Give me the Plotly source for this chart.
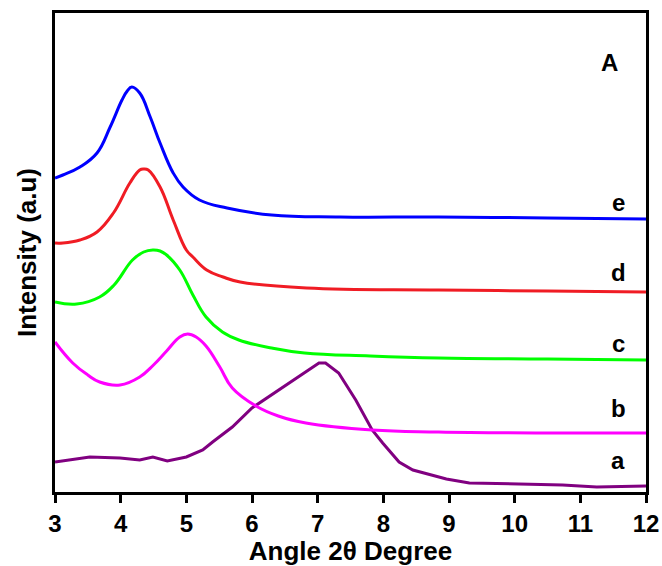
import plotly.graph_objects as go

# Angle 2θ (degree) and intensity (a.u.)
x_e = [3.0, 3.12, 3.38, 3.64, 3.84, 4.02, 4.1, 4.17, 4.29, 4.45, 4.6, 4.8, 4.95, 5.2, 5.62, 6.3, 7.34, 8.84, 10.5, 12.0]
y_e = [314, 317, 325, 339, 365, 392, 401, 405, 399, 375, 349, 319, 305, 292, 284, 277, 275, 275, 274, 273]

x_d = [3.0, 3.12, 3.38, 3.64, 3.89, 4.14, 4.29, 4.35, 4.42, 4.6, 4.8, 5.0, 5.1, 5.31, 5.56, 5.82, 6.83, 8.84, 10.5, 12.0]
y_d = [249, 249, 252, 260, 279, 309, 322, 323, 322, 305, 272, 242, 235, 222, 215, 210, 204, 202, 201, 200]

x_c = [3.0, 3.33, 3.68, 3.9, 4.18, 4.35, 4.49, 4.6, 4.7, 4.9, 5.1, 5.3, 5.55, 5.8, 6.3, 6.8, 7.8, 8.84, 10.5, 12.0]
y_c = [190, 188, 195, 207, 232, 240, 242, 241, 237, 222, 197, 175, 160, 152, 144, 139, 136, 134, 133, 132]

x_b = [3.0, 3.27, 3.5, 3.68, 3.99, 4.29, 4.5, 4.7, 4.9, 5.02, 5.15, 5.3, 5.51, 5.7, 6.06, 6.4, 6.82, 7.83, 8.84, 10.5, 12.0]
y_b = [150, 129, 117, 110, 107, 115, 127, 141, 155, 158, 155, 146, 125, 104, 86, 76, 69, 62, 60, 59, 59]

x_a = [3.0, 3.53, 3.99, 4.29, 4.49, 4.71, 5.0, 5.25, 5.4, 5.7, 6.0, 7.02, 7.12, 7.32, 7.58, 7.83,
       7.99, 8.24, 8.45, 8.96, 9.31, 9.97, 10.73, 11.25, 12.0]
y_a = [30, 35, 34, 32, 35, 31, 35, 42, 50, 65, 84, 129, 129, 119, 92, 62,
       49, 30, 22, 13, 9, 8, 7, 5, 6]

series = [
    ("a", x_a, y_a, "#800080", "linear"),
    ("b", x_b, y_b, "#FF00FF", "spline"),
    ("c", x_c, y_c, "#00FF00", "spline"),
    ("d", x_d, y_d, "#F01C24", "spline"),
    ("e", x_e, y_e, "#0000FF", "spline"),
]
label_pos = {"a": 32, "b": 84, "c": 149, "d": 220, "e": 290}

FONT = "Liberation Sans, Arial, Helvetica, sans-serif"

fig = go.Figure()
for name, xs, ys, col, shape in series:
    fig.add_trace(go.Scatter(x=xs, y=ys, mode="lines", name=name,
                             line=dict(color=col, width=3, shape=shape, smoothing=1.2),
                             showlegend=False))
    fig.add_annotation(x=11.58, y=label_pos[name], text=name, showarrow=False,
                       font=dict(family=FONT, size=24, color="black", weight="bold"))

fig.add_annotation(x=11.45, y=430, text="A", showarrow=False,
                   font=dict(family=FONT, size=24, color="black", weight="bold"))

fig.update_layout(
    width=662, height=566,
    margin=dict(l=55, r=16, t=13, b=74, autoexpand=False),
    paper_bgcolor="white", plot_bgcolor="white",
    font=dict(family=FONT, color="black"),
)
fig.update_xaxes(range=[3, 12], tickmode="array", tickvals=list(range(3, 13)),
                 ticks="outside", ticklen=8, tickwidth=3, tickcolor="black",
                 showline=True, linewidth=3, linecolor="black", mirror=True,
                 showgrid=False, zeroline=False, automargin=False,
                 tickfont=dict(family=FONT, size=24, color="black", weight="bold"),
                 title=dict(text="Angle 2θ Degree", standoff=6,
                            font=dict(family=FONT, size=26, color="black", weight="bold")))
fig.update_yaxes(range=[0, 479], showticklabels=False, ticks="",
                 showline=True, linewidth=3, linecolor="black", mirror=True,
                 showgrid=False, zeroline=False, automargin=False,
                 title=dict(text="Intensity (a.u)", standoff=8,
                            font=dict(family=FONT, size=26, color="black", weight="bold")))

fig.write_html("out.html")
